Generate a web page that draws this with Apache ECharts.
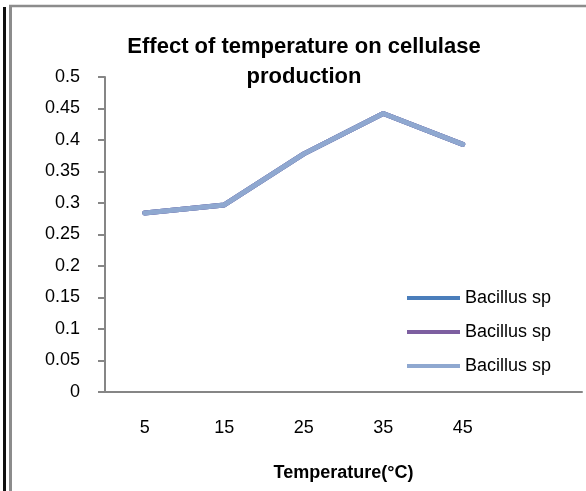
<!DOCTYPE html>
<html>
<head>
<meta charset="utf-8">
<script src="https://cdn.jsdelivr.net/npm/echarts@6/dist/echarts.min.js"></script>
<style>
  html, body { margin: 0; padding: 0; background: #fff; }
  #chart { width: 586px; height: 491px; }
</style>
</head>
<body>
<div id="chart"></div>
<script>
// temperature categories (last slot is empty, as in the original plot area)
const temperatures = ['5', '15', '25', '35', '45', '']
const seriesNames = ['Bacillus sp 1', 'Bacillus sp 2', 'Bacillus sp 3']
const activity = [0.284, 0.297, 0.378, 0.442, 0.393]
const lineColors = ['#4A7EBB', '#7D5FA0', '#8FA8D0']

const font = '"Liberation Sans", Arial, sans-serif'

const chart = echarts.init(document.getElementById('chart'))

const option = {
    animation: false,
    title: {
        text: 'Effect of temperature on cellulase\nproduction',
        left: 299,
        top: 27,
        textAlign: 'center',
        textStyle: {
            fontFamily: font,
            fontWeight: 'bold',
            fontSize: 22,
            lineHeight: 30,
            color: '#000'
        }
    },
    graphic: [
        { type: 'line', shape: { x1: 4.5, y1: 7, x2: 4.5, y2: 491 }, style: { stroke: '#111', lineWidth: 3 } },
        { type: 'line', shape: { x1: 10.5, y1: 5, x2: 10.5, y2: 491 }, style: { stroke: '#8c8c8c', lineWidth: 3 } },
        { type: 'line', shape: { x1: 9, y1: 6, x2: 586, y2: 6 }, style: { stroke: '#8c8c8c', lineWidth: 2.5 } }
    ],
    legend: {
        orient: 'vertical',
        left: 402,
        top: 282,
        itemWidth: 53,
        itemHeight: 4,
        itemGap: 12,
        icon: 'rect',
        data: seriesNames,
        formatter: () => 'Bacillus sp',
        textStyle: { fontFamily: font, fontSize: 18, lineHeight: 22, color: '#000' }
    },
    grid: {
        left: 105,
        right: 4,
        top: 77,
        bottom: 99
    },
    xAxis: {
        type: 'category',
        data: temperatures,
        boundaryGap: true,
        name: 'Temperature(°C)',
        nameLocation: 'middle',
        nameGap: 72,
        nameTextStyle: { fontFamily: font, fontWeight: 'bold', fontSize: 18, color: '#000' },
        axisLine: { lineStyle: { color: '#868686', width: 2 } },
        axisTick: { show: false },
        axisLabel: { fontFamily: font, fontSize: 18, color: '#000', margin: 27 },
        splitLine: { show: false }
    },
    yAxis: {
        type: 'value',
        min: 0,
        max: 0.5,
        interval: 0.05,
        axisLine: { show: true, lineStyle: { color: '#868686', width: 2 } },
        axisTick: { show: true, length: 7, lineStyle: { color: '#868686', width: 2 } },
        axisLabel: { fontFamily: font, fontSize: 18, color: '#000', margin: 25 },
        splitLine: { show: false }
    },
    series: seriesNames.map((name, i) => ({
        name: name,
        type: 'line',
        data: activity,
        showSymbol: false,
        color: lineColors[i],
        lineStyle: { width: 5, color: lineColors[i], cap: 'round', join: 'round' }
    }))
}

chart.setOption(option)
</script>
</body>
</html>
